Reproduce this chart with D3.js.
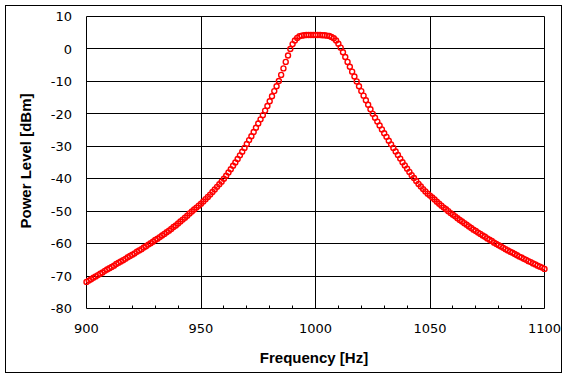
<!DOCTYPE html>
<html>
<head>
<meta charset="utf-8">
<script src="https://cdn.jsdelivr.net/npm/d3@7"></script>
<style>
  body { margin: 0; background: #fff; }
</style>
</head>
<body>
<div id="myplot"></div>
<script>
// measured spectrum, one sample per Hz starting at 900 Hz
var freqStart = 900;
var freqStep = 1;
var powerDbm = [
  -71.8, -71.4, -71.0, -70.5, -70.1, -69.7, -69.3, -68.9, -68.4, -68.0,
  -67.6, -67.2, -66.8, -66.3, -65.9, -65.5, -65.1, -64.7, -64.2, -63.8,
  -63.4, -63.0, -62.5, -62.1, -61.7, -61.2, -60.8, -60.3, -59.9, -59.4,
  -58.9, -58.5, -58.0, -57.5, -57.0, -56.5, -56.0, -55.5, -54.9, -54.4,
  -53.8, -53.2, -52.6, -52.0, -51.4, -50.7, -50.1, -49.5, -48.9, -48.3,
  -47.7, -47.0, -46.3, -45.6, -44.9, -44.1, -43.3, -42.5, -41.7, -40.9,
  -40.0, -39.1, -38.1, -37.1, -36.0, -35.0, -33.9, -32.8, -31.7, -30.5,
  -29.3, -28.1, -26.9, -25.6, -24.3, -23.0, -21.7, -20.4, -19.0, -17.6,
  -16.1, -14.6, -13.0, -11.5, -9.9, -8.0, -6.0, -4.0, -2.0, 0.0,
  1.5, 2.6, 3.4, 3.9, 4.1, 4.2, 4.3, 4.3, 4.3, 4.3,
  4.3, 4.3, 4.3, 4.2, 4.2, 4.1, 4.0, 3.7, 3.3, 2.6,
  1.6, 0.4, -1.0, -2.5, -4.0, -5.5, -7.0, -8.5, -10.0, -11.5,
  -13.0, -14.4, -15.8, -17.2, -18.6, -20.0, -21.2, -22.4, -23.6, -24.8,
  -26.0, -27.1, -28.3, -29.4, -30.5, -31.6, -32.7, -33.8, -34.9, -35.9,
  -36.9, -37.9, -38.9, -39.8, -40.7, -41.6, -42.4, -43.2, -43.9, -44.6,
  -45.2, -45.8, -46.4, -47.1, -47.7, -48.3, -48.9, -49.4, -50.0, -50.6,
  -51.1, -51.6, -52.2, -52.7, -53.2, -53.7, -54.2, -54.7, -55.2, -55.7,
  -56.1, -56.6, -57.0, -57.5, -57.9, -58.4, -58.8, -59.2, -59.7, -60.1,
  -60.5, -60.9, -61.3, -61.7, -62.1, -62.5, -62.8, -63.2, -63.6, -64.0,
  -64.3, -64.7, -65.0, -65.4, -65.7, -66.1, -66.4, -66.8, -67.1, -67.4,
  -67.8
];
var xTicks = [900, 950, 1000, 1050, 1100];
var xMinorTicks = [910, 920, 930, 940, 960, 970, 980, 990, 1010, 1020, 1030, 1040, 1060, 1070, 1080, 1090];
var yTicks = [10, 0, -10, -20, -30, -40, -50, -60, -70, -80];
var xTitle = "Frequency [Hz]";
var yTitle = "Power Level [dBm]";

var W = 568, H = 378;
var plotL = 86.5, plotR = 544.5, plotT = 16.5, plotB = 308.5;

var svg = d3.select('div#myplot')
  .append('svg')
  .attr('width', W)
  .attr('height', H);

// outer chart frame
svg.append("rect")
  .attr("x", 5.5).attr("y", 5.5)
  .attr("width", 556).attr("height", 367)
  .attr("fill", "#fff")
  .attr("stroke", "#000")
  .attr("stroke-width", 1);

var x = d3.scaleLinear().domain([900, 1100]).range([plotL, plotR]);
var y = d3.scaleLinear().domain([-80, 10]).range([plotB, plotT]);

// horizontal grid
svg.append("g").attr("id", "ygrid")
  .selectAll("line")
  .data(yTicks)
  .enter()
  .append("line")
  .attr("x1", plotL).attr("x2", plotR)
  .attr("y1", d => Math.round(y(d) - 0.5) + 0.5)
  .attr("y2", d => Math.round(y(d) - 0.5) + 0.5)
  .attr("stroke", "#000");

// vertical grid
svg.append("g").attr("id", "xgrid")
  .selectAll("line")
  .data(xTicks)
  .enter()
  .append("line")
  .attr("x1", d => Math.round(x(d) - 0.5) + 0.5)
  .attr("x2", d => Math.round(x(d) - 0.5) + 0.5)
  .attr("y1", plotT).attr("y2", plotB)
  .attr("stroke", "#000");

// minor ticks on the x axis, pointing inward
svg.append("g").attr("id", "xminor")
  .selectAll("line")
  .data(xMinorTicks)
  .enter()
  .append("line")
  .attr("x1", d => Math.round(x(d) - 0.5) + 0.5)
  .attr("x2", d => Math.round(x(d) - 0.5) + 0.5)
  .attr("y1", plotB - 3).attr("y2", plotB)
  .attr("stroke", "#000");

// y tick labels
svg.append("g").attr("id", "ylabels")
  .selectAll("text")
  .data(yTicks)
  .enter()
  .append("text")
  .attr("x", 72)
  .attr("y", d => y(d))
  .attr("dy", "0.36em")
  .attr("text-anchor", "end")
  .attr("font-family", "DejaVu Sans, sans-serif")
  .attr("font-size", "13")
  .text(d => d);

// x tick labels
svg.append("g").attr("id", "xlabels")
  .selectAll("text")
  .data(xTicks)
  .enter()
  .append("text")
  .attr("x", d => x(d))
  .attr("y", 333)
  .attr("text-anchor", "middle")
  .attr("font-family", "DejaVu Sans, sans-serif")
  .attr("font-size", "13")
  .text(d => d);

svg.append("text")
  .attr("x", 314).attr("y", 363)
  .attr("text-anchor", "middle")
  .attr("font-family", "Liberation Sans, Arial, sans-serif")
  .attr("font-weight", "bold")
  .attr("font-size", "15")
  .text(xTitle);

svg.append("text")
  .attr("transform", "translate(31,161) rotate(-90)")
  .attr("text-anchor", "middle")
  .attr("font-family", "Liberation Sans, Arial, sans-serif")
  .attr("font-weight", "bold")
  .attr("font-size", "15")
  .text(yTitle);

// data markers
svg.append("g").attr("id", "points")
  .selectAll("circle")
  .data(powerDbm)
  .enter()
  .append("circle")
  .attr("cx", (d, i) => x(freqStart + i * freqStep))
  .attr("cy", d => y(d))
  .attr("r", 2.5)
  .attr("fill", "none")
  .attr("stroke", "#ff0000")
  .attr("stroke-width", 1.4);
</script>
</body>
</html>
